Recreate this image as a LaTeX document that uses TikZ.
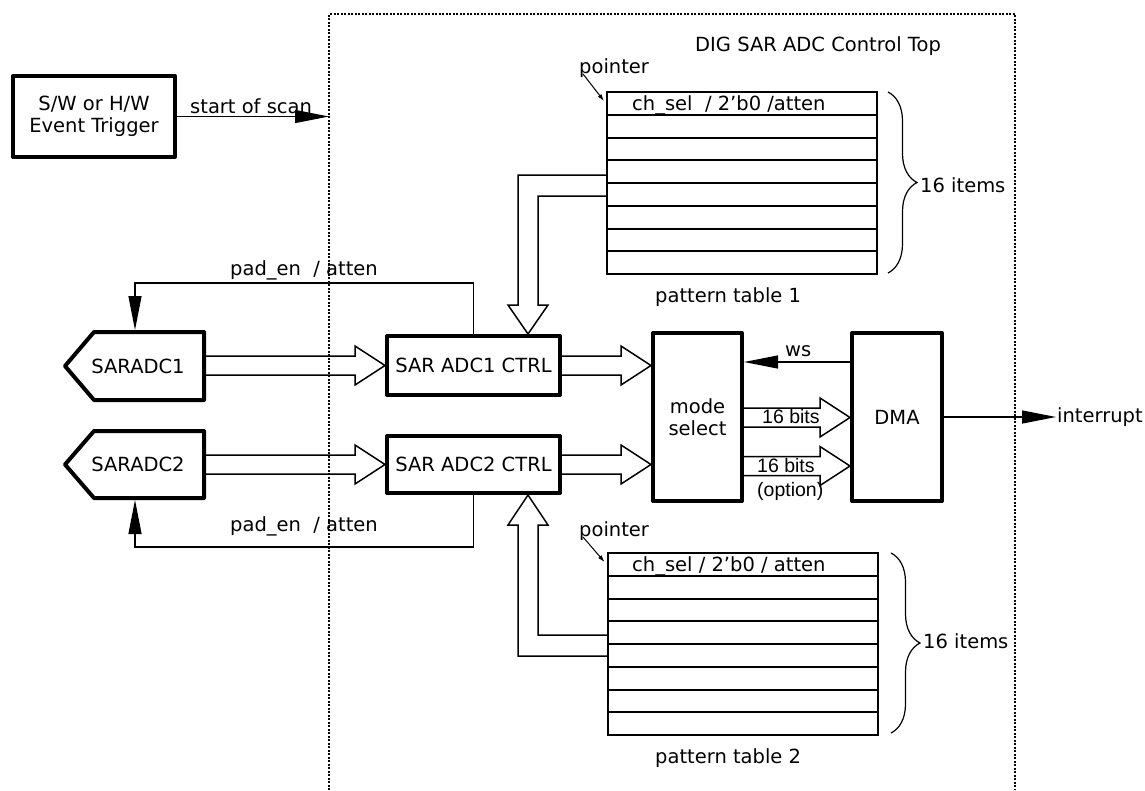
\documentclass[tikz,border=0pt]{standalone}
\usepackage{fontspec}
\setmainfont{DejaVu Sans}
\newfontfamily\arialf{Liberation Sans}
\usetikzlibrary{arrows.meta,calc,decorations.pathreplacing}
\newcommand\hollowarrow[2]{\draw[hollow] let \p1=(#1), \p2=(#2) in
  (\x1,\y2+9.5pt) -- (\x2-30pt,\y2+9.5pt) -- (\x2-30pt,\y2+19.5pt) -- (\x2,\y2)
  -- (\x2-30pt,\y2-19.5pt) -- (\x2-30pt,\y2-9.5pt) -- (\x1,\y2-9.5pt);}
\begin{document}
\begin{tikzpicture}[x=1pt,y=-1pt,
  font=\fontsize{19.5}{21.5}\selectfont,
  box/.style={draw, line width=4pt, line join=round, inner sep=0pt, align=center},
  conn/.style={line width=1.3pt},
  tip/.style={-{Triangle[length=34pt,width=13pt]}},
  hollow/.style={line width=1.5pt, line join=miter},
  tabline/.style={line width=2pt},
  tabbox/.style={draw, line width=2pt, inner sep=0pt, outer sep=0pt, minimum width=270pt, minimum height=182pt},
  frame/.style={line width=1.5pt, dash pattern=on 2pt off 1.5pt},
  lbl/.style={anchor=base west, inner sep=0pt},
  brc/.style={decorate, decoration={brace, amplitude=29pt}, line width=1.2pt},
  ptr/.style={line width=1pt, -{Latex[length=7pt,width=4.5pt]}}]
\useasboundingbox (0,0) rectangle (1145,790);

% helper coordinates
\coordinate (fl) at (329,0);
\coordinate (x135) at (135,0);
\coordinate (x528) at (528,0);
\coordinate (y283) at (0,283);
\coordinate (y547) at (0,547);
\coordinate (y362) at (0,362);
\coordinate (y417) at (0,417.5);
\coordinate (y466) at (0,466);
\coordinate (y175) at (0,175);
\coordinate (y196) at (0,196);
\coordinate (y635) at (0,635);
\coordinate (y656) at (0,656);

% frame
\draw[frame] (329,790) -- (329,14) -- (1015,14) -- (1015,790);
\node[lbl] (title) at (695,51) {DIG SAR ADC Control Top};

% trigger
\node[box, minimum width=162pt, minimum height=81pt] (trig) at (94,116.5) {S/W or H/W\\Event Trigger};
\node[lbl] (sos) at (190,113) {start of scan};
\draw[conn, tip] (trig.east) -- (trig.east -| fl);

% SARADC shapes
\node[inner sep=0pt, outer sep=0pt, minimum width=139pt, minimum height=68pt] (adc1) at (134.5,366) {\hspace*{7pt}SARADC1};
\node[inner sep=0pt, outer sep=0pt, minimum width=139pt, minimum height=67pt] (adc2) at (134.5,464.5) {\hspace*{7pt}SARADC2};
\draw[line width=4pt, line join=round] (adc1.north east) -- ([xshift=29pt]adc1.north west) -- (adc1.west) -- ([xshift=29pt]adc1.south west) -- (adc1.south east) -- cycle;
\draw[line width=4pt, line join=round] (adc2.north east) -- ([xshift=29pt]adc2.north west) -- (adc2.west) -- ([xshift=29pt]adc2.south west) -- (adc2.south east) -- cycle;

% controllers
\node[box, minimum width=173pt, minimum height=59pt] (ctrl1) at (473.5,365.5) {SAR ADC1 CTRL};
\node[box, minimum width=173pt, minimum height=57pt] (ctrl2) at (473.5,464.5) {SAR ADC2 CTRL};
\node[box, minimum width=89pt, minimum height=168pt] (mode) at (697.5,417) {mode\\select};
\node[box, minimum width=90pt, minimum height=168pt] (dma) at (897,417) {DMA};

% pattern tables
\node[tabbox] (tab1) at (742,183) {};
\foreach \k in {1,...,7} \draw[tabline] ([yshift=-\k*22.75pt]tab1.north west) -- ([yshift=-\k*22.75pt]tab1.north east);
\node[tabbox] (tab2) at (742.5,644) {};
\foreach \k in {1,...,7} \draw[tabline] ([yshift=-\k*22.75pt]tab2.north west) -- ([yshift=-\k*22.75pt]tab2.north east);
\node[lbl] (row1) at (632,110) {ch\_sel\ \ / 2’b0 /atten};
\node[lbl] (row2) at (632,571) {ch\_sel / 2’b0 / atten};
\node[lbl] (pt1) at (655,302) {pattern table 1};
\node[lbl] (pt2) at (655,763) {pattern table 2};

% pointers
\node[lbl] (ptr1) at (579,73) {pointer};
\node[lbl] (ptr2) at (579,536) {pointer};
\coordinate (p1s) at (583,74);
\coordinate (p2s) at (583,537);
\draw[ptr] (p1s) -- ([shift={(-3,9)}]tab1.north west);
\draw[ptr] (p2s) -- ([shift={(-3,9)}]tab2.north west);

% braces
\draw[brc] (888,92) -- (888,273);
\node[lbl] (it1) at (920,192) {16 items};
\draw[brc] (891,553) -- (891,733);
\node[lbl] (it2) at (923,648) {16 items};

% hollow arrows
\hollowarrow{adc1.east}{ctrl1.west}
\hollowarrow{adc2.east}{ctrl2.west}
\hollowarrow{ctrl1.east}{mode.west |- ctrl1.east}
\hollowarrow{ctrl2.east}{mode.west |- ctrl2.east}
\hollowarrow{mode.east |- y417}{dma.west |- y417}
\hollowarrow{mode.east |- y466}{dma.west |- y466}
\draw[hollow] (tab1.west |- y175) -- (518,175) -- (518,305) -- (508,305) -- (ctrl1.north -| x528)
  -- (548,305) -- (538,305) -- (538,196) -- (tab1.west |- y196);
\draw[hollow] (tab2.west |- y656) -- (518,656) -- (518,525) -- (508,525) -- (ctrl2.south -| x528)
  -- (548,525) -- (538,525) -- (538,635) -- (tab2.west |- y635);

\node[lbl, font=\arialf\fontsize{19.5}{21}\selectfont] (b1) at (762,423) {16 bits};
\node[lbl, font=\arialf\fontsize{19.5}{21}\selectfont] (b2) at (757,472) {16 bits};
\node[lbl, font=\arialf\fontsize{19.5}{21}\selectfont] (opt) at (757,496) {(option)};

% pad_en feedback
\draw[conn, tip, shorten >=2pt] (ctrl1.north) -- (ctrl1.north |- y283) -- (x135 |- y283) -- (adc1.north -| x135);
\draw[conn, tip, shorten >=2pt] (ctrl2.south) -- (ctrl2.south |- y547) -- (x135 |- y547) -- (adc2.south -| x135);
\node[lbl] (pe1) at (230,275) {pad\_en\ \ / atten};
\node[lbl] (pe2) at (230,531) {pad\_en\ \ / atten};

% ws & interrupt
\draw[conn, tip] (dma.west |- y362) -- (mode.east |- y362);
\node[lbl] (ws) at (785,356) {ws};
\node[anchor=west, inner sep=1pt] (intr) at (1056,417) {interrupt};
\draw[conn, tip] (dma.east) -- (intr.west);
\end{tikzpicture}
\end{document}
